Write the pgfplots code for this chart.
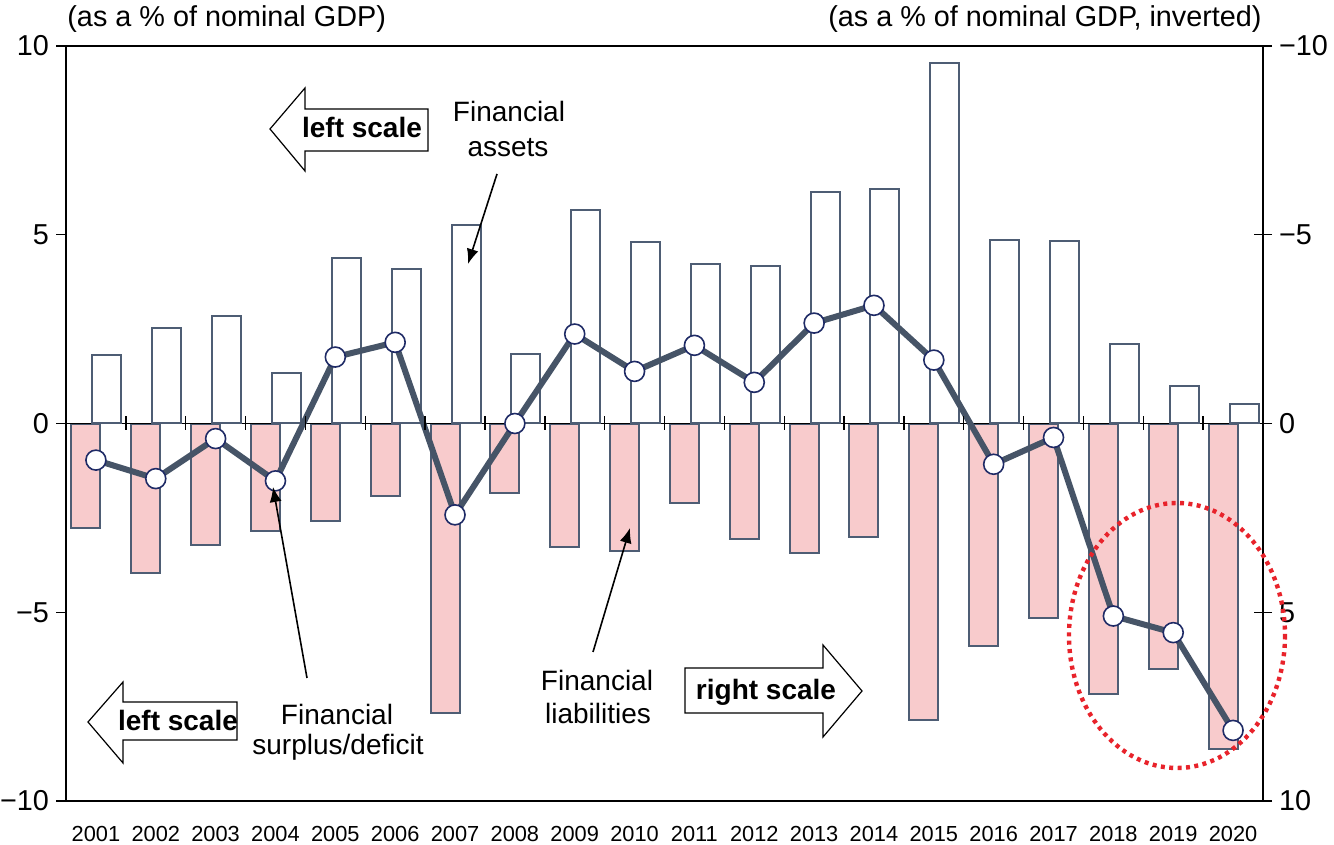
\documentclass[border=0pt]{standalone}
\usepackage{fontspec}
\setmainfont{Liberation Sans}
\usepackage{pgfplots}
\pgfplotsset{compat=1.18}
\usetikzlibrary{arrows.meta}
\definecolor{barline}{HTML}{4E5D74}
\definecolor{pinkfill}{HTML}{F8CBCC}
\definecolor{linec}{HTML}{465467}
\definecolor{markc}{HTML}{1F2B66}
\definecolor{ellc}{HTML}{E8232B}
\begin{document}
\begin{tikzpicture}
% right scale (inverted): financial liabilities
\begin{axis}[
  at={(0,0)}, anchor=south west,
  scale only axis, width=598.5pt, height=377.5pt,
  xmin=-0.5, xmax=19.5, ymin=-10, ymax=10, y dir=reverse,
  axis x line=none, axis y line*=right,
  y axis line style={black, line width=0.7pt},
  ytick={-10,-5,0,5,10}, yticklabels={−10,−5,0,5,10},
  tick align=center, major tick length=9pt,
  tick style={black, line width=0.7pt},
  yticklabel style={font=\fontsize{14.4}{17}\selectfont},
]
\addplot[ybar, bar width=14.5pt, bar shift=-5pt, draw=barline, fill=pinkfill, line width=1pt]
  coordinates {(0,2.78) (1,3.97) (2,3.22) (3,2.86) (4,2.59) (5,1.93) (6,7.68) (7,1.83) (8,3.28) (9,3.38)
               (10,2.11) (11,3.06) (12,3.44) (13,3.01) (14,7.86) (15,5.90) (16,5.16) (17,7.17) (18,6.50) (19,8.63)};
\end{axis}
% left scale: financial assets and financial surplus/deficit
\begin{axis}[
  at={(0,0)}, anchor=south west,
  scale only axis, width=598.5pt, height=377.5pt,
  xmin=-0.5, xmax=19.5, ymin=-10, ymax=10,
  axis line style={black, line width=0.7pt},
  ytick={-10,-5,0,5,10}, yticklabels={−10,−5,0,5,10}, ytick pos=left,
  xtick={0,1,2,3,4,5,6,7,8,9,10,11,12,13,14,15,16,17,18,19},
  xticklabels={2001,2002,2003,2004,2005,2006,2007,2008,2009,2010,2011,2012,2013,2014,2015,2016,2017,2018,2019,2020},
  xtick pos=bottom, xtick style={draw=none},
  tick align=outside, major tick length=5pt,
  tick style={black, line width=0.7pt},
  yticklabel style={font=\fontsize{14.4}{17}\selectfont},
  xticklabel style={font=\fontsize{10.9}{12}\selectfont, yshift=-4pt},
  extra y ticks={0}, extra y tick labels={},
  extra y tick style={grid=major, major grid style={black, line width=0.7pt}, major tick length=0pt},
]
\addplot[ybar, bar width=14.5pt, bar shift=5.5pt, draw=barline, fill=white, line width=1pt]
  coordinates {(0,1.82) (1,2.52) (2,2.84) (3,1.35) (4,4.38) (5,4.09) (6,5.26) (7,1.84) (8,5.66) (9,4.80)
               (10,4.22) (11,4.17) (12,6.13) (13,6.21) (14,9.55) (15,4.86) (16,4.83) (17,2.10) (18,0.98) (19,0.51)};
\addplot[black, only marks, mark=|, mark size=3.5pt, mark options={line width=0.7pt}]
  coordinates {(0.5,0) (1.5,0) (2.5,0) (3.5,0) (4.5,0) (5.5,0) (6.5,0) (7.5,0) (8.5,0) (9.5,0)
               (10.5,0) (11.5,0) (12.5,0) (13.5,0) (14.5,0) (15.5,0) (16.5,0) (17.5,0) (18.5,0)};
\addplot[linec, line width=3pt, mark=*, mark size=5pt, mark options={fill=white, draw=markc, line width=0.8pt}]
  coordinates {(0,-0.97) (1,-1.46) (2,-0.40) (3,-1.52) (4,1.76) (5,2.15) (6,-2.42) (7,0.0) (8,2.37) (9,1.38)
               (10,2.07) (11,1.09) (12,2.66) (13,3.13) (14,1.68) (15,-1.08) (16,-0.37) (17,-5.10) (18,-5.54) (19,-8.13)};
\end{axis}
\pgfresetboundingbox
\begin{scope}[shift={(-33pt,400.5pt)}, x=0.5pt, y=-0.5pt]
\path[use as bounding box] (0,0) rectangle (1334,845);
\node[anchor=base west, inner sep=0pt, font=\fontsize{14.4}{17}\selectfont] at (67,27) {(as a \% of nominal GDP)};
\node[anchor=base east, inner sep=0pt, font=\fontsize{14.4}{17}\selectfont] at (1262,27) {(as a \% of nominal GDP, inverted)};
% block arrows
\draw[black, line width=0.6pt, fill=white] (270,129) -- (305,88) -- (305,109) -- (428,109) -- (428,151) -- (305,151) -- (305,171) -- cycle;
\node[anchor=base, inner sep=0pt, font=\bfseries\fontsize{14}{17}\selectfont] at (362,138) {left scale};
\draw[black, line width=0.6pt, fill=white] (88,722) -- (123,682) -- (123,702) -- (237,702) -- (237,740) -- (123,740) -- (123,763) -- cycle;
\node[anchor=base, inner sep=0pt, font=\bfseries\fontsize{14}{17}\selectfont] at (178,731) {left scale};
\draw[black, line width=0.6pt, fill=white] (685,668) -- (823,668) -- (823,645) -- (862,691) -- (823,737) -- (823,713) -- (685,713) -- cycle;
\node[anchor=base, inner sep=0pt, font=\bfseries\fontsize{14}{17}\selectfont] at (766,700) {right scale};
% labels
\node[anchor=base, inner sep=0pt, font=\fontsize{14}{17}\selectfont] at (509,122) {Financial};
\node[anchor=base, inner sep=0pt, font=\fontsize{14}{17}\selectfont] at (508,157) {assets};
\node[anchor=base, inner sep=0pt, font=\fontsize{14}{17}\selectfont] at (337,725) {Financial};
\node[anchor=base, inner sep=0pt, font=\fontsize{14}{17}\selectfont] at (338,755) {surplus/deficit};
\node[anchor=base, inner sep=0pt, font=\fontsize{14}{17}\selectfont] at (597,691) {Financial};
\node[anchor=base, inner sep=0pt, font=\fontsize{14}{17}\selectfont] at (598,724) {liabilities};
% pointer arrows
\draw[-{Latex[length=7.5pt,width=6pt]}, line width=0.8pt] (497,174) -- (468,264);
\draw[-{Latex[length=7.5pt,width=6pt]}, line width=0.8pt] (307,678) -- (273,487);
\draw[-{Latex[length=7.5pt,width=6pt]}, line width=0.8pt] (593,652) -- (630,528);
% highlight ellipse
\draw[ellc, line width=2.2pt, dash pattern=on 2pt off 2.2pt] (1177,635.5) ellipse [x radius=108, y radius=132.5];
\end{scope}
\end{tikzpicture}
\end{document}
